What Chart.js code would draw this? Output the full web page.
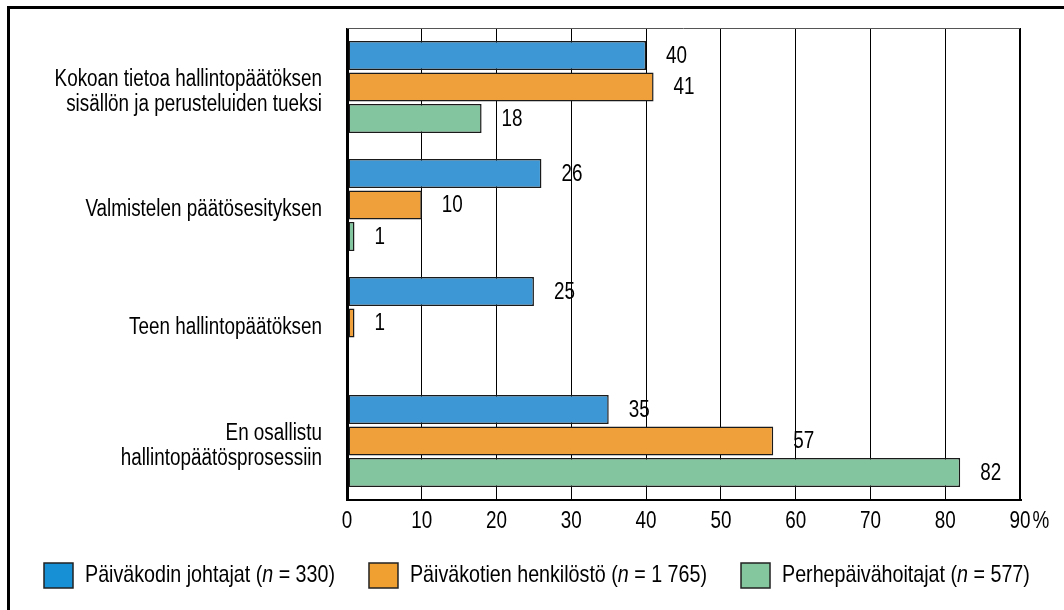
<!DOCTYPE html>
<html>
<head>
<meta charset="utf-8">
<script src="https://cdn.jsdelivr.net/npm/chart.js@4"></script>
<style>
  body { margin: 0; background: #fff; }
  canvas { display: block; }
</style>
</head>
<body>
<canvas id="chart" width="1064" height="610"></canvas>
<script>
'use strict';

// data
const categories = [
  ['Kokoan tietoa hallintopäätöksen', 'sisällön ja perusteluiden tueksi'],
  ['Valmistelen päätösesityksen'],
  ['Teen hallintopäätöksen'],
  ['En osallistu', 'hallintopäätösprosessiin']
];
const johtajat = [40, 26, 25, 35];
const henkilosto = [41, 10, 1, 57];
const perhepaivahoitajat = [18, 1, null, 82];
const seriesNames = ['Päiväkodin johtajat', 'Päiväkotien henkilöstö', 'Perhepäivähoitajat'];
const seriesN = ['330', '1 765', '577'];
const xMax = 90;
const xStep = 10;

const barColors = ['#3e97d5', '#efa03b', '#82c59e'];
const legendColors = ['#1790d5', '#f0a030', '#84c69d'];
const FONT = "'Liberation Sans', Arial, sans-serif";
const fontSize = 23;
const legendSize = 24;
// the original uses a narrow face; squeeze the regular one
const SX = 0.82;

function narrowText(ctx, text, x, y) {
  ctx.save();
  ctx.translate(x, y);
  ctx.scale(SX, 1);
  ctx.fillText(text, 0, 0);
  ctx.restore();
}

// value labels to the right of the bars
const valueLabels = {
  id: 'valueLabels',
  afterDatasetsDraw(chart) {
    const ctx = chart.ctx;
    ctx.save();
    ctx.font = fontSize + 'px ' + FONT;
    ctx.fillStyle = '#000';
    ctx.textAlign = 'left';
    ctx.textBaseline = 'middle';
    chart.data.datasets.forEach((ds, i) => {
      chart.getDatasetMeta(i).data.forEach((bar, j) => {
        if (ds.data[j] == null) return;
        narrowText(ctx, String(ds.data[j]), bar.x + 20, bar.y + 1);
      });
    });
    ctx.restore();
  }
};

// category labels, tick labels, frame, % sign and legend
const extras = {
  id: 'extras',
  afterDraw(chart) {
    const ctx = chart.ctx;
    const area = chart.chartArea;
    const y = chart.scales.y;
    const x = chart.scales.x;
    ctx.save();

    // top line of the plot
    ctx.strokeStyle = '#555';
    ctx.lineWidth = 1;
    ctx.beginPath();
    ctx.moveTo(area.left, area.top + 0.5);
    ctx.lineTo(area.right, area.top + 0.5);
    ctx.stroke();

    // category labels, right aligned
    ctx.font = fontSize + 'px ' + FONT;
    ctx.fillStyle = '#000';
    ctx.textBaseline = 'middle';
    ctx.textAlign = 'right';
    const lh = 25;
    categories.forEach((lines, i) => {
      const cy = y.getPixelForTick(i) + 5;
      lines.forEach((l, k) => {
        narrowText(ctx, l, area.left - 25, cy + (k - (lines.length - 1) / 2) * lh);
      });
    });

    // x tick labels
    ctx.textAlign = 'center';
    const ty = area.bottom + 22;
    x.ticks.forEach(t => {
      narrowText(ctx, String(t.value), x.getPixelForValue(t.value), ty);
    });
    ctx.textAlign = 'left';
    const px = x.getPixelForValue(xMax);
    const w90 = ctx.measureText(String(xMax)).width * SX;
    narrowText(ctx, '%', px + w90 / 2 + 2, ty);

    // legend
    let lx = 44;
    const ly = 575;
    seriesNames.forEach((name, i) => {
      ctx.fillStyle = legendColors[i];
      ctx.fillRect(lx, ly - 12, 29, 25);
      ctx.strokeStyle = '#222';
      ctx.lineWidth = 1.5;
      ctx.strokeRect(lx, ly - 12, 29, 25);
      ctx.fillStyle = '#000';
      let tx = lx + 41;
      const parts = [
        [name + ' (', 'normal'],
        ['n', 'italic'],
        [' = ' + seriesN[i] + ')', 'normal']
      ];
      parts.forEach(p => {
        ctx.font = p[1] + ' ' + legendSize + 'px ' + FONT;
        narrowText(ctx, p[0], tx, ly);
        tx += ctx.measureText(p[0]).width * SX;
      });
      lx = tx + 34;
    });

    // outer frame
    ctx.strokeStyle = '#000';
    ctx.lineWidth = 3;
    ctx.beginPath();
    ctx.moveTo(8.5, 610);
    ctx.lineTo(8.5, 7.5);
    ctx.lineTo(1064, 7.5);
    ctx.stroke();

    ctx.restore();
  }
};

const data = {
  labels: categories,
  datasets: [
    { label: seriesNames[0], data: johtajat, backgroundColor: barColors[0] },
    { label: seriesNames[1], data: henkilosto, backgroundColor: barColors[1] },
    { label: seriesNames[2], data: perhepaivahoitajat, backgroundColor: barColors[2] }
  ].map(d => Object.assign(d, {
    borderColor: '#1a1a1a',
    borderWidth: 1.5,
    borderSkipped: false,
    categoryPercentage: 0.8,
    barPercentage: 0.92
  }))
};

const config = {
  type: 'bar',
  data: data,
  options: {
    indexAxis: 'y',
    responsive: false,
    animation: false,
    layout: { padding: { top: 28, right: 44, bottom: 70, left: 0 } },
    plugins: {
      legend: { display: false },
      tooltip: { enabled: false }
    },
    scales: {
      x: {
        min: 0,
        max: xMax,
        afterFit(s) { s.height = 40; },
        ticks: { stepSize: xStep, display: false },
        grid: {
          color: '#000',
          drawTicks: false,
          lineWidth: c => (c.tick && c.tick.value === 0 ? 3 : c.tick && c.tick.value === xMax ? 2 : 1)
        },
        border: { display: true, color: '#000', width: 2 }
      },
      y: {
        afterFit(s) { s.width = 347; },
        ticks: { display: false },
        grid: { display: false },
        border: { display: false }
      }
    }
  },
  plugins: [valueLabels, extras]
};

const myChart = new Chart(document.getElementById('chart'), config);
</script>
</body>
</html>
